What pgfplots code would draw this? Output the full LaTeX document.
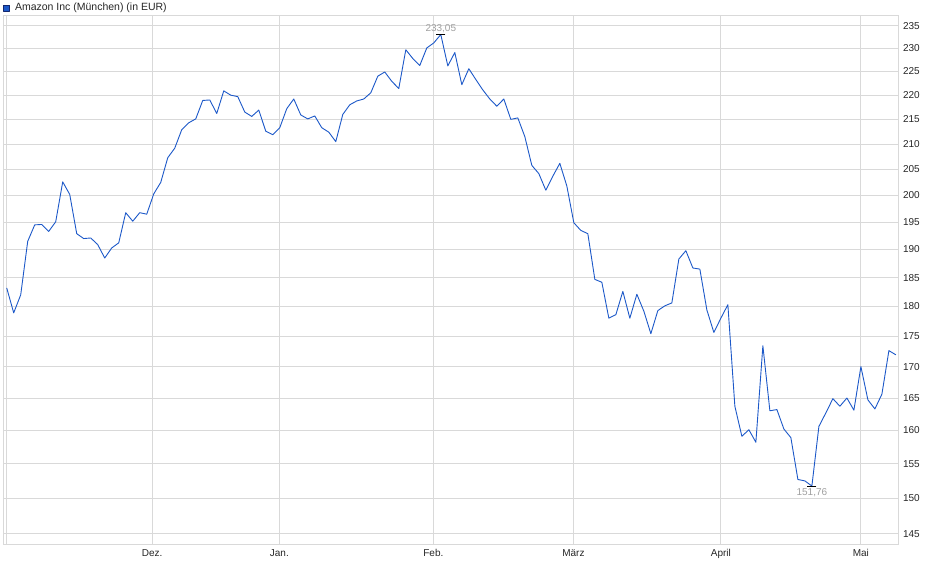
\documentclass[border=0pt]{standalone}
\usepackage{fontspec}
\setmainfont{Liberation Sans}
\usepackage{pgfplots}
\pgfplotsset{compat=1.18}

\definecolor{linecol}{RGB}{28,88,200}
\definecolor{legdraw}{RGB}{20,40,110}
\definecolor{gridcol}{RGB}{217,217,217}
\definecolor{notecol}{RGB}{160,160,160}

% Amazon Inc (Muenchen), closing prices in EUR, one row per trading day
\pgfplotstableread{
i v
0 183.2
1 178.9
2 182.0
3 191.5
4 194.5
5 194.6
6 193.3
7 195.1
8 202.6
9 200.2
10 192.9
11 192.0
12 192.1
13 190.9
14 188.5
15 190.3
16 191.2
17 196.8
18 195.2
19 196.8
20 196.5
21 200.3
22 202.5
23 207.3
24 209.2
25 212.9
26 214.3
27 215.1
28 218.9
29 219.0
30 216.2
31 220.9
32 220.0
33 219.7
34 216.5
35 215.6
36 216.9
37 212.6
38 211.9
39 213.3
40 217.2
41 219.2
42 215.9
43 215.1
44 215.7
45 213.3
46 212.4
47 210.5
48 216.0
49 218.0
50 218.8
51 219.2
52 220.5
53 224.0
54 224.9
55 222.9
56 221.4
57 229.7
58 227.8
59 226.3
60 230.1
61 231.2
62 233.05
63 226.2
64 229.1
65 222.2
66 225.6
67 223.3
68 221.1
69 219.2
70 217.7
71 219.2
72 215.0
73 215.3
74 211.5
75 205.8
76 204.2
77 201.0
78 203.7
79 206.2
80 201.8
81 194.9
82 193.5
83 192.9
84 184.7
85 184.2
86 178.0
87 178.6
88 182.6
89 178.0
90 182.1
91 179.2
92 175.4
93 179.3
94 180.1
95 180.6
96 188.3
97 189.8
98 186.7
99 186.5
100 179.4
101 175.6
102 178.0
103 180.3
104 163.7
105 159.1
106 160.1
107 158.2
108 173.4
109 163.0
110 163.2
111 160.2
112 158.9
113 152.7
114 152.5
115 151.76
116 160.6
117 162.7
118 164.9
119 163.7
120 165.0
121 163.1
122 170.0
123 164.7
124 163.3
125 165.6
126 172.6
127 171.9
}\prices

\begin{document}
\begin{tikzpicture}
\path[use as bounding box] (0,0) rectangle (940pt,579pt);
\begin{axis}[
    at={(3pt,34pt)}, anchor=south west,
    scale only axis, width=895pt, height=529pt,
    ymode=log, ymin=143.5, ymax=237.2,
    xmin=-0.53, xmax=127.3,
    ytick={145,150,155,160,165,170,175,180,185,190,195,200,205,210,215,220,225,230,235},
    yticklabels={145,150,155,160,165,170,175,180,185,190,195,200,205,210,215,220,225,230,235},
    yticklabel pos=right,
    xtick={-0.1,20.76,38.94,60.94,80.94,102,122},
    xticklabels={,Dez.,Jan.,Feb.,März,April,Mai},
    grid=major,
    major grid style={gridcol, line width=1pt},
    axis line style={gridcol, line width=1pt},
    major tick length=0pt,
    tick label style={font=\fontsize{10}{12}\selectfont, text=black!85},
    yticklabel style={xshift=1.5pt},
    xticklabel style={yshift=-1pt},
    legend style={at={(rel axis cs:0,1)}, anchor=west, yshift=8pt, xshift=0pt,
        draw=none, fill=none, inner sep=0pt,
        font=\fontsize{10.5}{12}\selectfont, text=black!85,
        nodes={inner sep=2pt}},
    legend cell align=left,
    legend image code/.code={\draw[fill=linecol, draw=legdraw, line width=0.7pt] (0pt,-3pt) rectangle (6pt,3pt); \path (9pt,0pt);},
]
\addplot[color=linecol, line width=0.9pt, line join=round] table[x=i, y=v] {\prices};
\addlegendentry{Amazon Inc (München) (in EUR)}
\addplot[forget plot, only marks, mark=-, mark size=4.5pt, mark options={black, line width=1pt},
    nodes near coords={233,05}, nodes near coords align=above,
    every node near coord/.append style={text=notecol, font=\fontsize{10}{12}\selectfont, yshift=-2pt}]
    coordinates {(62,233.05)};
\addplot[forget plot, only marks, mark=-, mark size=4.5pt, mark options={black, line width=1pt},
    nodes near coords={151,76}, nodes near coords align=below,
    every node near coord/.append style={text=notecol, font=\fontsize{10}{12}\selectfont, yshift=1pt}]
    coordinates {(115,151.76)};
\end{axis}
\end{tikzpicture}
\end{document}
